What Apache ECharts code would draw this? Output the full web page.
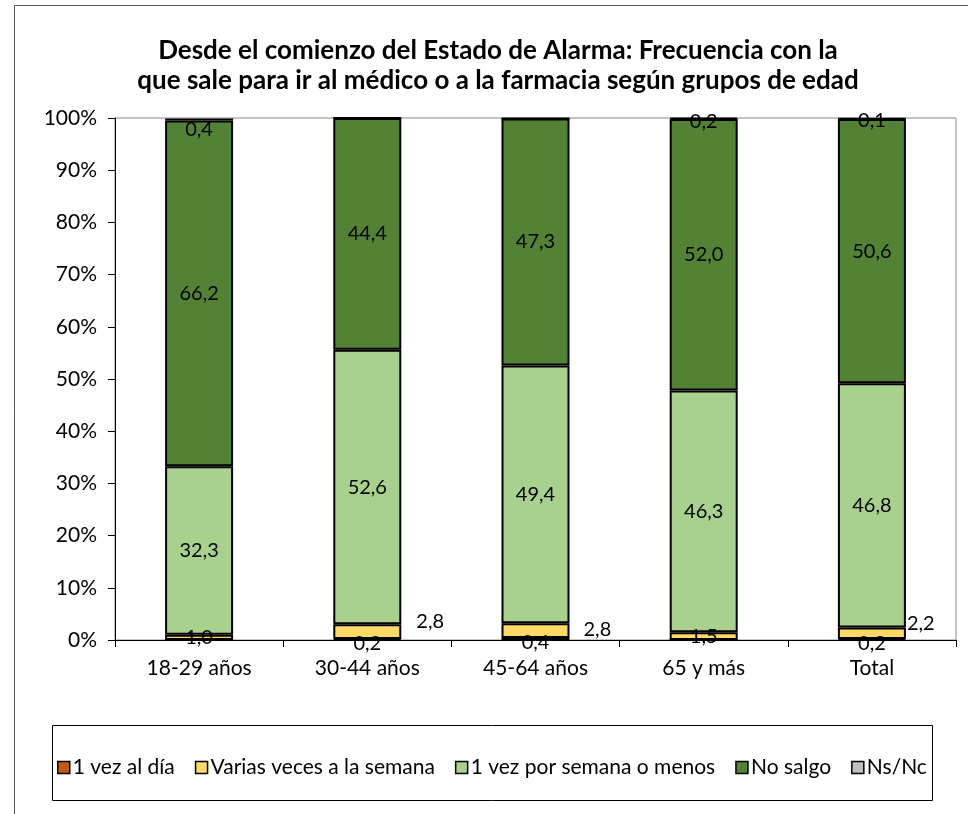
<!DOCTYPE html>
<html>
<head>
<meta charset="utf-8">
<script src="https://cdn.jsdelivr.net/npm/echarts@6/dist/echarts.min.js"></script>
<style>
html,body{margin:0;padding:0;background:#fff;}
#chart{width:968px;height:814px;}
</style>
</head>
<body>
<div id="chart"></div>
<script>
const categories = ['18-29 años', '30-44 años', '45-64 años', '65 y más', 'Total'];
const seriesNames = ['1 vez al día', 'Varias veces a la semana', '1 vez por semana o menos', 'No salgo', 'Ns/Nc'];
const unaVezDia = [0, 0.2, 0.4, 0, 0.2];
const variasVeces = [1.0, 2.8, 2.8, 1.5, 2.2];
const unaVezSemana = [32.3, 52.6, 49.4, 46.3, 46.8];
const noSalgo = [66.2, 44.4, 47.3, 52.0, 50.6];
const nsNc = [0.4, 0, 0, 0.2, 0.1];
const yTicks = [0, 10, 20, 30, 40, 50, 60, 70, 80, 90, 100];

const seriesValues = [unaVezDia, variasVeces, unaVezSemana, noSalgo, nsNc];
const colors = ['#C55A11', '#FFD966', '#A9D18E', '#548235', '#BFBFBF'];
const FONT = 'Lato';
const FS = 20;
const AFS = 21;

// label placement tweaks (style only)
const labelTweaks = {
  0: { all: { position: 'inside', offset: [0, 4] } },
  1: {
    0: { position: 'inside', offset: [0, 0] },
    1: { position: 'right', distance: 15, offset: [0, -10] },
    2: { position: 'right', distance: 14, offset: [0, -1] },
    3: { position: 'inside', offset: [0, 0] },
    4: { position: 'right', distance: 1, offset: [0, -10] }
  },
  4: {
    0: { position: 'inside', offset: [0, 10] },
    3: { position: 'inside', offset: [0, 3] },
    4: { position: 'inside', offset: [0, 2] }
  }
};

function fmt(v) { return v.toFixed(1).replace('.', ','); }

const series = seriesValues.map((vals, si) => ({
  name: seriesNames[si],
  type: 'bar',
  stack: 'total',
  barWidth: 68,
  itemStyle: { color: colors[si], borderColor: '#000', borderWidth: 2 },
  label: {
    show: true,
    position: 'inside',
    color: '#000',
    fontFamily: FONT,
    fontSize: FS,
    formatter: p => fmt(p.value)
  },
  data: vals.map((v, ci) => {
    const t = labelTweaks[si] ? (labelTweaks[si][ci] || labelTweaks[si].all) : null;
    const item = { value: v };
    if (v === 0) {
      item.label = { show: false };
    } else if (t) {
      item.label = Object.assign({ show: true }, t);
    }
    return item;
  })
}));

const chart = echarts.init(document.getElementById('chart'), null, { renderer: 'canvas' });
chart.setOption({
  backgroundColor: '#fff',
  animation: false,
  title: {
    text: 'Desde el comienzo del Estado de Alarma: Frecuencia con la\nque sale para ir al médico o a la farmacia según grupos de edad',
    left: 493,
    top: 31,
    textAlign: 'center',
    textStyle: { fontFamily: FONT, fontSize: 26, fontWeight: 'bold', color: '#000', lineHeight: 30 }
  },
  graphic: [
    { type: 'rect', silent: true, shape: { x: 14.5, y: 5.5, width: 1000, height: 900 }, style: { fill: null, stroke: '#555', lineWidth: 1 }, z: -10 },
    { type: 'rect', silent: true, shape: { x: 52.5, y: 725.5, width: 880, height: 75 }, style: { fill: null, stroke: '#000', lineWidth: 1 }, z: -5 }
  ],
  legend: {
    data: seriesNames,
    left: 52,
    top: 752,
    width: 900,
    padding: [5, 5, 5, 5],
    icon: 'rect',
    itemWidth: 12,
    itemHeight: 12,
    itemGap: 20,
    itemStyle: { borderColor: '#000', borderWidth: 1.5 },
    textStyle: { fontFamily: FONT, fontSize: AFS, color: '#000', padding: [0, 0, 0, -2] }
  },
  grid: {
    left: 115, right: 12, top: 118, bottom: 174,
    show: true, borderColor: '#888', borderWidth: 1, backgroundColor: 'transparent'
  },
  xAxis: {
    type: 'category',
    data: categories,
    axisLine: { lineStyle: { color: '#000', width: 1 } },
    axisTick: { show: true, length: 7, lineStyle: { color: '#000' } },
    axisLabel: { fontFamily: FONT, fontSize: AFS, color: '#000', margin: 18 }
  },
  yAxis: {
    type: 'value',
    min: yTicks[0],
    max: yTicks[yTicks.length - 1],
    interval: yTicks[1] - yTicks[0],
    axisLine: { show: true, lineStyle: { color: '#000', width: 1 } },
    axisTick: { show: true, length: 7, lineStyle: { color: '#000' } },
    splitLine: { show: false },
    axisLabel: { fontFamily: FONT, fontSize: AFS, color: '#000', margin: 18, formatter: '{value}%' }
  },
  series: series
});
</script>
</body>
</html>
